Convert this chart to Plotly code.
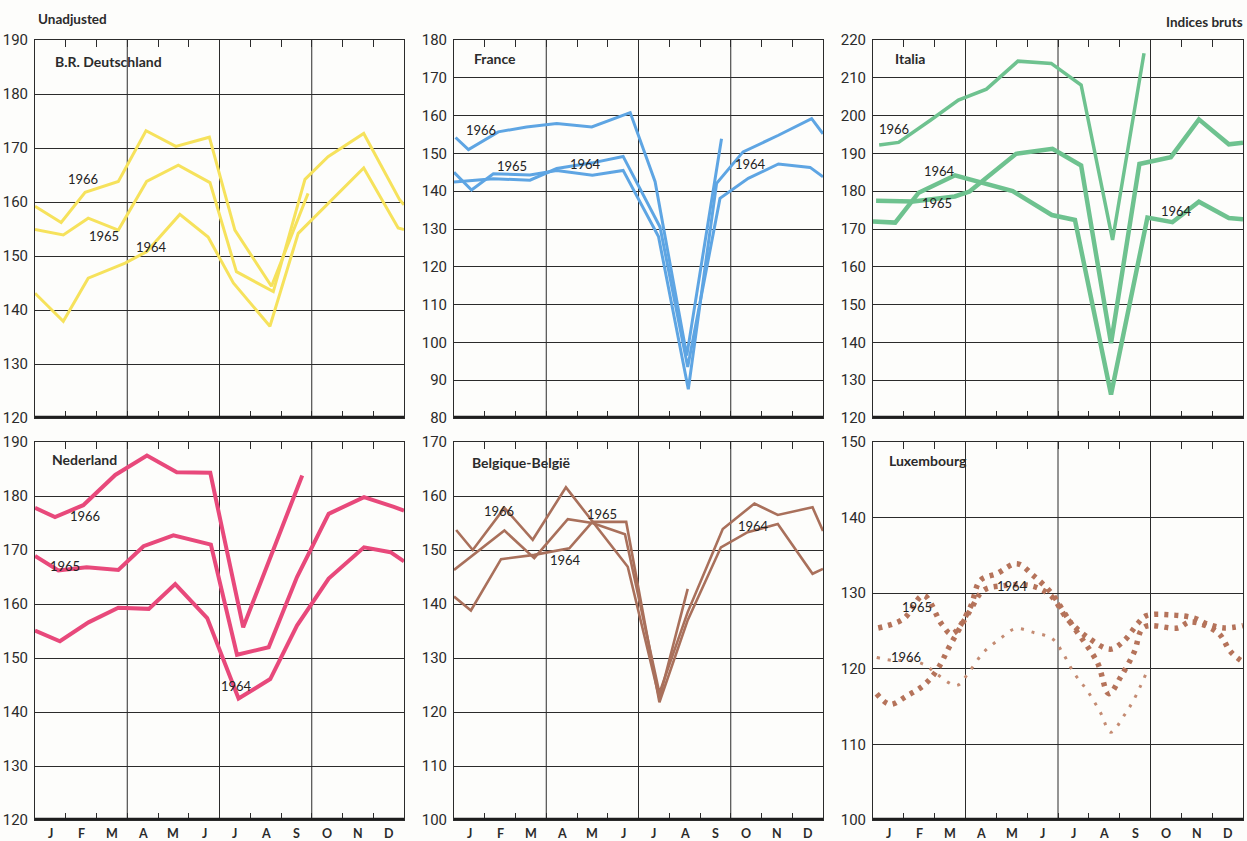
import plotly.graph_objects as go

# ---------------- data (x in months from 0 = start of January, y = index) ----------------
MONTHS = ["J", "F", "M", "A", "M", "J", "J", "A", "S", "O", "N", "D"]
MONTH_TICKS = [0.5, 1.5, 2.5, 3.5, 4.5, 5.5, 6.5, 7.5, 8.5, 9.5, 10.5, 11.5]
MONTH_BOUNDS = [1, 2, 3, 4, 5, 6, 7, 8, 9, 10, 11]
QUARTER_LINES = [3, 6, 9]

# B.R. Deutschland
de_1964_x = [0, 0.92, 1.73, 2.93, 3.63, 4.71, 5.63, 6.45, 7.64, 8.56, 10.69, 11.81, 12]
de_1964_y = [143.1, 137.9, 145.9, 148.7, 150.8, 157.7, 153.5, 145.0, 137.0, 154.2, 166.3, 155.2, 154.9]
de_1965_x = [0, 0.92, 1.73, 2.71, 3.63, 4.66, 5.69, 6.55, 7.75, 8.78, 9.53, 10.69, 11.86, 12]
de_1965_y = [154.9, 153.9, 157.0, 154.8, 163.8, 166.8, 163.6, 147.1, 143.4, 164.2, 168.4, 172.7, 160.4, 159.5]
de_1966_x = [0, 0.85, 1.63, 2.71, 3.61, 4.58, 5.67, 6.5, 7.69, 8.88]
de_1966_y = [159.2, 156.2, 161.8, 163.8, 173.2, 170.3, 172.0, 154.8, 144.4, 161.6]

# France
fr_1964_x = [0, 1.28, 2.47, 3.34, 4.5, 5.5, 6.7, 7.6, 8.65, 9.57, 10.55, 11.58, 12]
fr_1964_y = [142.4, 143.3, 142.9, 146.0, 147.5, 149.2, 130.5, 93.5, 138.1, 143.4, 147.2, 146.3, 143.8]
fr_1965_x = [0, 0.57, 1.28, 2.47, 3.34, 4.5, 5.5, 6.65, 7.62, 8.54, 9.4, 10.55, 11.63, 12]
fr_1965_y = [145.0, 140.3, 144.6, 144.3, 145.5, 144.2, 145.5, 128.0, 87.6, 142.1, 150.4, 154.8, 159.2, 155.2]
fr_1966_x = [0.05, 0.47, 1.44, 2.36, 3.34, 4.48, 5.73, 6.54, 7.57, 8.7]
fr_1966_y = [154.2, 151.0, 155.7, 157.0, 157.9, 157.0, 160.8, 142.5, 96.5, 153.9]

# Italia
it_1964_x = [0, 0.72, 1.48, 2.66, 4.53, 5.8, 6.55, 7.72, 8.9, 9.71, 10.57, 11.54, 12]
it_1964_y = [172.0, 171.7, 179.6, 184.2, 180.0, 173.7, 172.4, 126.2, 173.0, 171.8, 177.2, 172.9, 172.6]
it_1965_x = [0.1, 1.3, 2.65, 3.13, 4.64, 5.82, 6.75, 7.72, 8.64, 9.66, 10.57, 11.54, 12]
it_1965_y = [177.5, 177.3, 178.6, 179.9, 189.9, 191.2, 186.8, 139.8, 187.2, 189.0, 199.0, 192.4, 192.8]
it_1966_x = [0.2, 0.83, 1.85, 2.77, 3.68, 4.7, 5.78, 6.75, 7.77, 8.79]
it_1966_y = [192.2, 192.9, 198.7, 204.1, 207.0, 214.4, 213.8, 208.1, 167.1, 216.5]

# Nederland
nl_1964_x = [0, 0.81, 1.74, 2.71, 3.7, 4.56, 5.6, 6.62, 7.65, 8.52, 9.55, 10.7, 11.56, 12]
nl_1964_y = [155.1, 153.1, 156.6, 159.3, 159.1, 163.7, 157.4, 142.5, 146.1, 156.0, 164.7, 170.5, 169.6, 167.9]
nl_1965_x = [0, 0.76, 1.68, 2.71, 3.53, 4.5, 5.72, 6.57, 7.6, 8.52, 9.55, 10.7, 11.67, 12]
nl_1965_y = [168.9, 166.2, 166.8, 166.3, 170.7, 172.7, 171.0, 150.6, 152.0, 165.0, 176.7, 179.8, 178.0, 177.3]
nl_1966_x = [0, 0.65, 1.57, 2.61, 3.64, 4.61, 5.7, 6.77, 8.69]
nl_1966_y = [177.8, 176.1, 178.3, 183.9, 187.5, 184.4, 184.3, 155.7, 183.8]

# Belgique-België
be_1964_x = [0, 0.55, 1.53, 2.61, 3.75, 4.5, 5.6, 6.68, 7.6, 8.68, 9.55, 10.53, 11.66, 12]
be_1964_y = [141.4, 138.8, 148.3, 149.1, 150.3, 155.2, 155.2, 121.8, 137.0, 150.5, 153.3, 154.8, 145.6, 146.5]
be_1965_x = [0, 1.64, 2.61, 3.7, 4.5, 5.56, 6.68, 7.6, 8.74, 9.77, 10.53, 11.66, 12]
be_1965_y = [146.3, 153.6, 148.5, 155.7, 155.0, 152.9, 123.5, 138.5, 153.9, 158.6, 156.5, 157.9, 153.5]
be_1966_x = [0.07, 0.61, 1.64, 2.56, 3.64, 5.65, 6.68, 7.6]
be_1966_y = [153.7, 150.0, 157.8, 151.9, 161.6, 146.9, 122.5, 142.8]

# Luxembourg
lu_1964_x = [0.12, 0.55, 1.09, 1.64, 2.07, 2.5, 3.15, 3.59, 4.24, 5.1, 5.76, 6.3, 6.95, 7.7,
             8.14, 8.57, 8.85, 9.77, 10.42, 10.85, 11.39, 12]
lu_1964_y = [116.7, 115.3, 116.4, 117.8, 119.8, 123.1, 127.7, 130.4, 131.0, 131.0, 129.7, 126.6,
             124.2, 122.6, 123.7, 125.9, 127.0, 127.1, 126.7, 125.9, 125.4, 125.7]
lu_1965_x = [0.17, 0.99, 1.64, 2.23, 2.56, 3.15, 3.48, 4.02, 4.67, 5.21, 5.81, 6.19, 6.51, 7.27,
             7.65, 8.03, 8.47, 8.79, 9.88, 10.3, 11.18, 11.61, 12]
lu_1965_y = [125.4, 126.6, 129.7, 125.9, 124.6, 128.1, 131.7, 132.6, 133.9, 132.3, 129.9, 127.5,
             125.5, 120.9, 116.7, 118.9, 122.2, 125.5, 125.4, 126.2, 124.8, 122.2, 120.9]
lu_1966_x = [0.12, 0.66, 1.2, 1.69, 2.07, 2.72, 3.1, 3.59, 4.13, 4.62, 5.21, 5.81, 6.14, 6.51,
             6.95, 7.38, 7.71, 8.14, 8.47, 8.85]
lu_1966_y = [121.5, 121.1, 121.1, 120.5, 119.3, 117.8, 119.5, 122.2, 124.0, 125.3, 124.8, 124.0,
             122.2, 119.5, 117.1, 114.2, 111.6, 113.8, 116.0, 119.3]

# ---------------- layout constants ----------------
W, H = 1247, 841
COLS = [(35, 404), (454, 823), (873, 1243)]
ROWS = [(40, 418), (442, 820)]
MONTH_LABEL_Y = 833
INK = "#2b2b2b"
FONT = "Lato, 'Open Sans', sans-serif"
NUMFONT = "'Liberation Sans Narrow', Roboto, sans-serif"


def px(x):
    return x / W


def py(y):
    return 1 - y / H


PANELS = [
    dict(name="B.R. Deutschland", color="#F6E25C", yr=(120, 190), row=0, col=0, namepos=(53, 61),
         series=[(de_1964_x, de_1964_y, 3), (de_1965_x, de_1965_y, 3), (de_1966_x, de_1966_y, 3)],
         labels=[("1966", 1.55, 164.3), ("1965", 2.26, 153.7), ("1964", 3.8, 151.6)]),
    dict(name="France", color="#5EA5E3", yr=(80, 180), row=0, col=1, namepos=(472, 58),
         series=[(fr_1964_x, fr_1964_y, 3), (fr_1965_x, fr_1965_y, 3), (fr_1966_x, fr_1966_y, 3)],
         labels=[("1966", 0.88, 156.3), ("1965", 1.88, 146.7), ("1964", 4.26, 147.1), ("1964", 9.63, 147.3)]),
    dict(name="Italia", color="#6EC28F", yr=(120, 220), row=0, col=2, namepos=(893, 59),
         series=[(it_1964_x, it_1964_y, 4.5), (it_1965_x, it_1965_y, 4.5), (it_1966_x, it_1966_y, 3.5)],
         labels=[("1966", 0.68, 196.4), ("1964", 2.17, 185.4), ("1965", 2.06, 176.8), ("1964", 9.83, 174.8)]),
    dict(name="Nederland", color="#E8497B", yr=(120, 190), row=1, col=0, namepos=(50, 459),
         series=[(nl_1964_x, nl_1964_y, 4), (nl_1965_x, nl_1965_y, 4), (nl_1966_x, nl_1966_y, 4)],
         labels=[("1966", 1.63, 176.3), ("1965", 0.98, 167.0), ("1964", 6.56, 144.9)]),
    dict(name="Belgique-België", color="#A9705B", yr=(100, 170), row=1, col=1, namepos=(470, 463),
         series=[(be_1964_x, be_1964_y, 2.6), (be_1965_x, be_1965_y, 2.6), (be_1966_x, be_1966_y, 2.6)],
         labels=[("1966", 1.45, 157.3), ("1965", 4.81, 156.6), ("1964", 3.64, 148.2), ("1964", 9.73, 154.5)]),
    dict(name="Luxembourg", color="#B5735A", yr=(100, 150), row=1, col=2, namepos=(887, 460),
         series=[(lu_1964_x, lu_1964_y, 5.5), (lu_1965_x, lu_1965_y, 5.5), (lu_1966_x, lu_1966_y, 3)],
         labels=[("1965", 1.42, 128.2), ("1966", 1.07, 121.6), ("1964", 4.51, 131.0)]),
]

fig = go.Figure()
shapes = []
annotations = []
layout_axes = {}

for i, p in enumerate(PANELS, start=1):
    suffix = "" if i == 1 else str(i)
    xa, ya = "x" + suffix, "y" + suffix
    xk, yk = "xaxis" + suffix, "yaxis" + suffix
    c0, c1 = COLS[p["col"]]
    r0, r1 = ROWS[p["row"]]
    is_lux = p["name"] == "Luxembourg"

    for k, (xs, ys, w) in enumerate(p["series"]):
        if is_lux:
            dash = "4px,6px" if k < 2 else "3px,8px"
            line = dict(color=p["color"] if k < 2 else "#C48B72", width=w, dash=dash,
                        shape="spline", smoothing=1.0)
        else:
            line = dict(color=p["color"], width=w)
        fig.add_trace(go.Scatter(x=xs, y=ys, mode="lines", line=line, xaxis=xa, yaxis=ya,
                                 hoverinfo="skip", showlegend=False, cliponaxis=True))

    # frame axis: month-boundary ticks inside, at bottom and mirrored on top
    layout_axes[xk] = dict(
        domain=[px(c0), px(c1)], range=[0, 12], anchor=ya, fixedrange=True, automargin=False,
        showgrid=False, zeroline=False, showline=True, linecolor=INK, linewidth=1,
        mirror="ticks", tickmode="array", tickvals=MONTH_BOUNDS, showticklabels=False,
        ticks="inside", ticklen=7, tickwidth=1.3, tickcolor=INK,
    )
    layout_axes[yk] = dict(
        domain=[py(r1), py(r0)], range=list(p["yr"]), anchor=xa, fixedrange=True, automargin=False,
        dtick=10, tick0=0, showgrid=True, gridcolor=INK, gridwidth=1,
        zeroline=False, showline=True, linecolor=INK, linewidth=1, mirror=True,
        ticks="", ticklabelstandoff=3,
        tickfont=dict(family=NUMFONT, size=15, color=INK),
    )

    # month names centred in each month, bottom row only
    if p["row"] == 1:
        for mx, mt in zip(MONTH_TICKS, MONTHS):
            annotations.append(dict(text=mt, xref=xa, yref="paper", x=mx, y=py(MONTH_LABEL_Y),
                                    xanchor="center", yanchor="middle", showarrow=False,
                                    font=dict(family=FONT, size=12.5, color=INK, weight="bold")))

    for q in QUARTER_LINES:
        shapes.append(dict(type="line", xref=xa, yref=ya + " domain", x0=q, x1=q, y0=0, y1=1,
                           line=dict(color=INK, width=1), layer="below"))
    shapes.append(dict(type="line", xref=xa + " domain", yref=ya, x0=0, x1=1,
                       y0=p["yr"][0], y1=p["yr"][0], line=dict(color="#1e1e1e", width=4.5),
                       layer="above"))

    nx, ny = p["namepos"]
    annotations.append(dict(text=f"<b>{p['name']}</b>", xref="paper", yref="paper",
                            x=px(nx), y=py(ny), xanchor="left", yanchor="middle", showarrow=False,
                            font=dict(family=FONT, size=14, color=INK)))
    for txt, lx, ly in p["labels"]:
        annotations.append(dict(text=txt, xref=xa, yref=ya, x=lx, y=ly, showarrow=False,
                                xanchor="center", yanchor="middle",
                                font=dict(family=FONT, size=13, color="#222222")))

annotations.append(dict(text="Unadjusted", xref="paper", yref="paper", x=px(36), y=py(19),
                        xanchor="left", yanchor="middle", showarrow=False,
                        font=dict(family=FONT, size=13.5, color=INK, weight="bold")))
annotations.append(dict(text="Indices bruts", xref="paper", yref="paper", x=px(1245), y=py(22),
                        xanchor="right", yanchor="middle", showarrow=False,
                        font=dict(family=FONT, size=13.5, color=INK, weight="bold")))

fig.update_layout(
    width=W, height=H, autosize=False,
    margin=dict(l=0, r=0, t=0, b=0, pad=0, autoexpand=False),
    paper_bgcolor="#fdfdfb", plot_bgcolor="#fdfdfb",
    shapes=shapes, annotations=annotations, showlegend=False,
    **layout_axes,
)

fig.write_html("out.html", include_plotlyjs=True, config={"displayModeBar": False})
